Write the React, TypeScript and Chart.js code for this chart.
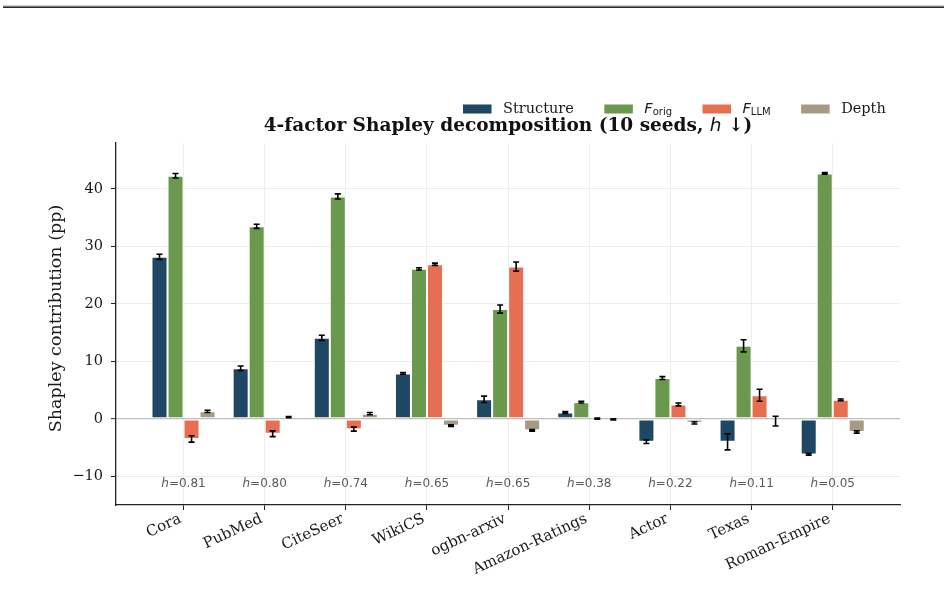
import { useEffect, useRef } from "react";
import { Chart, registerables } from "chart.js";

Chart.register(...registerables);

// Graph datasets, ordered by homophily h (descending)
const graphs = ["Cora", "PubMed", "CiteSeer", "WikiCS", "ogbn-arxiv", "Amazon-Ratings", "Actor", "Texas", "Roman-Empire"];
const homophily = [0.81, 0.8, 0.74, 0.65, 0.65, 0.38, 0.22, 0.11, 0.05];

// Shapley contributions (percentage points), mean and std over 10 seeds
const structure = [28.2, 8.8, 14.1, 7.9, 3.4, 1.1, -4.0, -4.0, -6.2];
const structureErr = [0.45, 0.4, 0.45, 0.15, 0.55, 0.15, 0.3, 1.4, 0.15];
const fOrig = [42.3, 33.5, 38.7, 26.1, 19.1, 2.9, 7.1, 12.7, 42.7];
const fOrigErr = [0.4, 0.35, 0.45, 0.2, 0.7, 0.15, 0.25, 1.05, 0.15];
const fLlm = [-3.5, -2.6, -1.8, 26.9, 26.5, 0.05, 2.5, 4.1, 3.3];
const fLlmErr = [0.55, 0.5, 0.35, 0.2, 0.8, 0.1, 0.25, 1.05, 0.15];
const depth = [1.3, 0.3, 0.9, -1.2, -2.0, -0.1, -0.7, -0.4, -2.3];
const depthErr = [0.2, 0.1, 0.2, 0.15, 0.15, 0.1, 0.2, 0.85, 0.2];

const factorNames = ["Structure", "F_orig", "F_LLM", "Depth"];
const factorColors = ["#1d4763", "#6a994e", "#e76f51", "#a69a84"];
const factorValues = [structure, fOrig, fLlm, depth];
const factorErrors = [structureErr, fOrigErr, fLlmErr, depthErr];

const yTicks = [-10, 0, 10, 20, 30, 40];
const hLabelLevel = -11.3;

const SERIF = '"DejaVu Serif", serif';
const SANS = '"DejaVu Sans", sans-serif';

type Part = { t: string; f: string; dy?: number };

function drawParts(ctx: CanvasRenderingContext2D, parts: Part[], x: number, y: number, align: "left" | "center") {
  let total = 0;
  for (const p of parts) {
    ctx.font = p.f;
    total += ctx.measureText(p.t).width;
  }
  let cx = align === "center" ? x - total / 2 : x;
  ctx.textAlign = "left";
  for (const p of parts) {
    ctx.font = p.f;
    ctx.fillText(p.t, cx, y + (p.dy || 0));
    cx += ctx.measureText(p.t).width;
  }
  return total;
}

function labelParts(name: string, size: number): Part[] {
  const i = name.indexOf("_");
  if (i < 0) return [{ t: name, f: `${size}px ${SERIF}` }];
  return [
    { t: name.slice(0, i), f: `italic ${size}px ${SANS}` },
    { t: name.slice(i + 1), f: `${Math.round(size * 0.72)}px ${SANS}`, dy: 3 },
  ];
}

const errorBars = {
  id: "errorBars",
  afterDatasetsDraw(chart: any) {
    const ctx = chart.ctx as CanvasRenderingContext2D;
    const ys = chart.scales.y;
    ctx.save();
    ctx.strokeStyle = "#000";
    ctx.lineWidth = 1.6;
    chart.data.datasets.forEach((ds: any, di: number) => {
      const meta = chart.getDatasetMeta(di);
      meta.data.forEach((el: any, i: number) => {
        const v = factorValues[di][i];
        const e = factorErrors[di][i];
        const y1 = ys.getPixelForValue(v - e);
        const y2 = ys.getPixelForValue(v + e);
        const x = el.x;
        ctx.beginPath();
        ctx.moveTo(x, y1);
        ctx.lineTo(x, y2);
        ctx.moveTo(x - 3, y1);
        ctx.lineTo(x + 3, y1);
        ctx.moveTo(x - 3, y2);
        ctx.lineTo(x + 3, y2);
        ctx.stroke();
      });
    });
    ctx.restore();
  },
};

const decor = {
  id: "decor",
  afterDraw(chart: any) {
    const ctx = chart.ctx as CanvasRenderingContext2D;
    const xs = chart.scales.x;
    const ys = chart.scales.y;
    const area = chart.chartArea;
    ctx.save();

    // rule at the top of the figure
    ctx.fillStyle = "#a0a0a0";
    ctx.fillRect(3, 5.5, 941, 1);
    ctx.fillStyle = "#2a2a2a";
    ctx.fillRect(3, 6.5, 941, 1.5);

    // title
    ctx.fillStyle = "#111";
    ctx.textBaseline = "middle";
    drawParts(
      ctx,
      [
        { t: "4-factor Shapley decomposition (10 seeds, ", f: `bold 18.5px ${SERIF}` },
        { t: "h", f: `italic 18.5px ${SANS}` },
        { t: " \u2193)", f: `bold 18.5px ${SERIF}` },
      ],
      (area.left + area.right) / 2,
      126,
      "center"
    );

    // legend
    let lx = 463;
    const ly = 109;
    factorNames.forEach((name, k) => {
      ctx.fillStyle = factorColors[k];
      ctx.fillRect(lx, ly - 4.5, 28.5, 9);
      ctx.fillStyle = "#1a1a1a";
      ctx.textBaseline = "middle";
      const w = drawParts(ctx, labelParts(name, 14.5), lx + 40, ly, "left");
      lx += 40 + w + 30.5;
    });

    // y axis title
    ctx.save();
    ctx.translate(56, 318.5);
    ctx.rotate(-Math.PI / 2);
    ctx.fillStyle = "#1a1a1a";
    ctx.font = `17.5px ${SERIF}`;
    ctx.textAlign = "center";
    ctx.textBaseline = "middle";
    ctx.fillText("Shapley contribution (pp)", 0, 0);
    ctx.restore();

    // homophily annotations
    ctx.fillStyle = "#5a5a5a";
    ctx.textBaseline = "middle";
    homophily.forEach((h, i) => {
      drawParts(
        ctx,
        [
          { t: "h", f: `italic 12px ${SANS}` },
          { t: "=" + h.toFixed(2), f: `12px ${SANS}` },
        ],
        xs.getPixelForValue(i),
        ys.getPixelForValue(hLabelLevel),
        "center"
      );
    });
    ctx.restore();
  },
};

export default function App() {
  const ref = useRef<HTMLCanvasElement | null>(null);

  useEffect(() => {
    if (!ref.current) return;
    const chart = new Chart(ref.current, {
      type: "bar",
      data: {
        datasets: factorNames.map((name, k) => ({
          label: name,
          data: factorValues[k].map((v, i) => ({ x: i, y: v })),
          backgroundColor: factorColors[k],
          borderColor: "rgba(255,255,255,0.95)",
          borderWidth: 1,
          borderSkipped: false,
        })),
      },
      options: {
        animation: false,
        responsive: false,
        devicePixelRatio: 1,
        categoryPercentage: 0.789,
        barPercentage: 1,
        layout: { padding: { top: 143, left: 0, right: 48, bottom: 0 } },
        plugins: {
          legend: { display: false },
          title: { display: false },
          tooltip: { enabled: false },
        },
        scales: {
          x: {
            type: "linear",
            min: -0.832,
            max: 8.829,
            offset: false,
            afterFit: (s: any) => {
              s.height = 96;
            },
            afterBuildTicks: (s: any) => {
              s.ticks = graphs.map((_, i) => ({ value: i }));
            },
            border: { display: true, color: "#222", width: 1.3 },
            grid: { offset: false, color: "#eeeeee", lineWidth: 1, tickColor: "#222", tickLength: 5, tickWidth: 1 },
            ticks: {
              autoSkip: false,
              minRotation: 25,
              maxRotation: 25,
              padding: 0,
              labelOffset: -3,
              color: "#1a1a1a",
              font: { family: SERIF, size: 15 },
              callback: (v: any) => graphs[Number(v)] ?? "",
            },
          },
          y: {
            min: -15,
            max: 48,
            afterFit: (s: any) => {
              s.width = 116;
            },
            afterBuildTicks: (s: any) => {
              s.ticks = yTicks.map((v) => ({ value: v }));
            },
            border: { display: true, color: "#222", width: 1.3 },
            grid: {
              color: (c: any) => (c.tick && c.tick.value === 0 ? "#bdbdbd" : "#ececec"),
              lineWidth: (c: any) => (c.tick && c.tick.value === 0 ? 1.3 : 1),
              tickColor: "#222",
              tickLength: 5,
              tickWidth: 1,
            },
            ticks: {
              padding: 8,
              color: "#1a1a1a",
              font: { family: SERIF, size: 14.5 },
              callback: (v: any) => (Number(v) < 0 ? "\u2212" + Math.abs(Number(v)) : String(v)),
            },
          },
        },
      },
      plugins: [errorBars, decor],
    });
    return () => chart.destroy();
  }, []);

  return (
    <div style={{ position: "fixed", left: 0, top: 0, width: 948, height: 601, background: "#fff" }}>
      <canvas ref={ref} width={948} height={601} style={{ display: "block" }} />
    </div>
  );
}
